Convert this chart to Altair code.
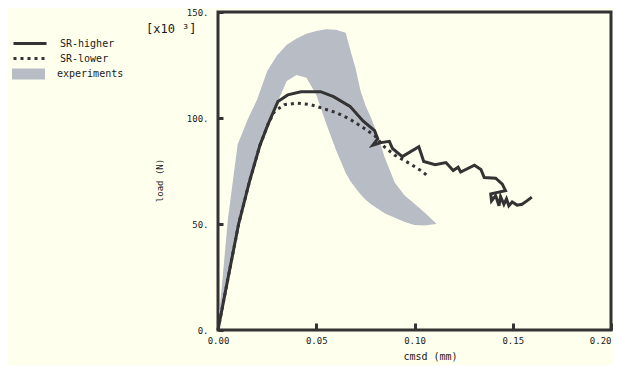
import altair as alt
import pandas as pd

# experiments band (upper / lower envelopes read at common cmsd values)
band_x = [0.0005, 0.002, 0.005, 0.01, 0.015, 0.02, 0.025, 0.03, 0.035, 0.04, 0.045,
          0.05, 0.055, 0.06, 0.065, 0.0675, 0.07, 0.0725, 0.075, 0.0775, 0.08, 0.085,
          0.09, 0.095, 0.1, 0.105, 0.111]
band_upper = [7, 21, 52, 87.5, 99, 109, 122, 129.5, 134.5, 137.5, 139.7,
              141, 141.9, 141.6, 140.2, 131.5, 123.5, 113, 106, 101, 95, 81,
              69.5, 63.5, 59.5, 55.5, 50.2]
band_lower = [7, 10, 25, 49, 67, 83, 96, 107, 117.5, 120.3, 119,
              111, 97.5, 85, 74, 70, 67, 64, 61.5, 59.5, 58, 55,
              53, 51, 49.5, 49.3, 50]

# SR-higher (solid)
hi_x = [0, 0.005, 0.0105, 0.016, 0.0213, 0.0255, 0.0305, 0.0355, 0.0422, 0.0522,
        0.0588, 0.0672, 0.0738, 0.0797, 0.0813, 0.0788, 0.083, 0.0872, 0.0888, 0.0938,
        0.1022, 0.1047, 0.1105, 0.116, 0.1197, 0.1222, 0.1235, 0.1305, 0.1338, 0.1355,
        0.1413, 0.1447, 0.1463, 0.1388, 0.1392, 0.1413, 0.143, 0.1438, 0.1455, 0.1468,
        0.148, 0.1497, 0.1522, 0.1547, 0.1572, 0.1597]
hi_y = [0, 24, 50, 70, 87, 97.1, 107.8, 110.9, 112.4, 112.4,
        110.1, 105.5, 98.6, 94, 90.2, 87.2, 88.4, 89, 85.6, 81.8,
        86.4, 79.5, 78, 79, 75.2, 76.8, 74.5, 77.7, 75.7, 71.9,
        71.6, 68.8, 65.7, 64.2, 60.9, 63.4, 58.6, 63, 59.3, 61.9,
        58.6, 60.4, 58.9, 59.3, 60.9, 62.7]

# SR-lower (dotted)
lo_x = [0, 0.005, 0.0105, 0.016, 0.0213, 0.0255, 0.0288, 0.0338, 0.0405, 0.0472,
        0.0538, 0.0605, 0.0672, 0.0738, 0.0797, 0.0847, 0.0897, 0.098, 0.1038, 0.1075]
lo_y = [0, 24, 50, 70, 87, 97.1, 103.2, 106.3, 107, 106.3,
        104.4, 102.4, 99.4, 95.5, 91.7, 86.4, 82.6, 78.3, 74.9, 71.9]

x_ticks = [0, 0.05, 0.1, 0.15, 0.2]
y_ticks = [0, 50, 100, 150]

FONT = "DejaVu Sans Mono"
INK = "#333333"
TXT = "#1a1a1a"
BG = "#FFFFEE"
GREY = "#B8BCC4"

band = pd.DataFrame({"cmsd": band_x, "upper": band_upper, "lower": band_lower,
                     "series": "experiments"})
hi = pd.DataFrame({"cmsd": hi_x, "load": hi_y, "order": list(range(len(hi_x))),
                   "series": "SR-higher"})
lo = pd.DataFrame({"cmsd": lo_x, "load": lo_y, "order": list(range(len(lo_x))),
                   "series": "SR-lower"})

xscale = alt.Scale(domain=[0, 0.2], nice=False, zero=False)
yscale = alt.Scale(domain=[0, 150], nice=False)

xaxis = alt.Axis(values=x_ticks, format=".2f", title="cmsd (mm)", grid=False,
                 domain=False, tickSize=7, tickWidth=3, tickColor=INK, offset=-7,
                 labelPadding=6, labelFont=FONT, labelFontSize=9, labelColor=TXT,
                 labelAlign=alt.expr("datum.value >= 0.2 ? 'right' : 'center'"),
                 titleFont=FONT, titleFontSize=10, titleFontWeight="normal",
                 titleColor=TXT, titlePadding=6, titleX=212, labelFlush=False)
yaxis = alt.Axis(values=y_ticks, labelExpr="format(datum.value, 'd') + '.'",
                 title="load (N)", grid=False, domain=False, tickSize=5, tickWidth=3,
                 tickColor=INK, offset=-5, labelPadding=10, labelFont=FONT,
                 labelFontSize=9, labelColor=TXT, titleFont=FONT, titleFontSize=9,
                 titleFontWeight="normal", titleColor=TXT, titlePadding=22,
                 titleY=168, labelFlush=False)


def leg(y, **kw):
    base = dict(title=None, orient="none", legendX=-206, legendY=y,
                symbolSize=1089, labelOffset=12, labelFont=FONT, labelFontSize=10,
                labelColor=TXT, padding=0)
    base.update(kw)
    return alt.Legend(**base)


area = alt.Chart(band).mark_area(strokeWidth=0).encode(
    x=alt.X("cmsd:Q", scale=xscale, axis=xaxis),
    y=alt.Y("upper:Q", scale=yscale, axis=yaxis),
    y2="lower:Q",
    fill=alt.Fill("series:N", scale=alt.Scale(domain=["experiments"], range=[GREY]),
                  legend=leg(45.5, symbolType="M-1,-0.333H1V0.333H-1Z",
                             symbolStrokeWidth=0, symbolOpacity=1)),
)

line_hi = alt.Chart(hi).mark_line(strokeWidth=3, strokeCap="butt").encode(
    x=alt.X("cmsd:Q", scale=xscale),
    y=alt.Y("load:Q", scale=yscale),
    order="order:Q",
    stroke=alt.Stroke("series:N", scale=alt.Scale(domain=["SR-higher"], range=[INK]),
                      legend=leg(13.5, symbolType="stroke", symbolStrokeWidth=3)),
)

line_lo = alt.Chart(lo).mark_line(color=INK, strokeWidth=3, strokeCap="butt").encode(
    x=alt.X("cmsd:Q", scale=xscale),
    y=alt.Y("load:Q", scale=yscale),
    order="order:Q",
    strokeDash=alt.StrokeDash("series:N",
                              scale=alt.Scale(domain=["SR-lower"], range=[[3, 4]]),
                              legend=leg(28.5, symbolType="stroke",
                                         symbolStrokeWidth=3,
                                         symbolStrokeColor=INK)),
)

chart = alt.layer(area, line_lo, line_hi).properties(
    width=393, height=318,
    autosize=alt.AutoSizeParams(type="none"),
    padding={"left": 210, "top": 4, "right": 2, "bottom": 35},
    background=BG,
    title=alt.TitleParams(text="[x10 \u00b3]", anchor="start", frame="group",
                          font=FONT, fontSize=12, fontWeight="normal", color=TXT,
                          dx=-72, dy=28, offset=0),
).configure_view(stroke=INK, strokeWidth=3)

chart.save("out.html", embed_options={"renderer": "svg", "actions": False})
